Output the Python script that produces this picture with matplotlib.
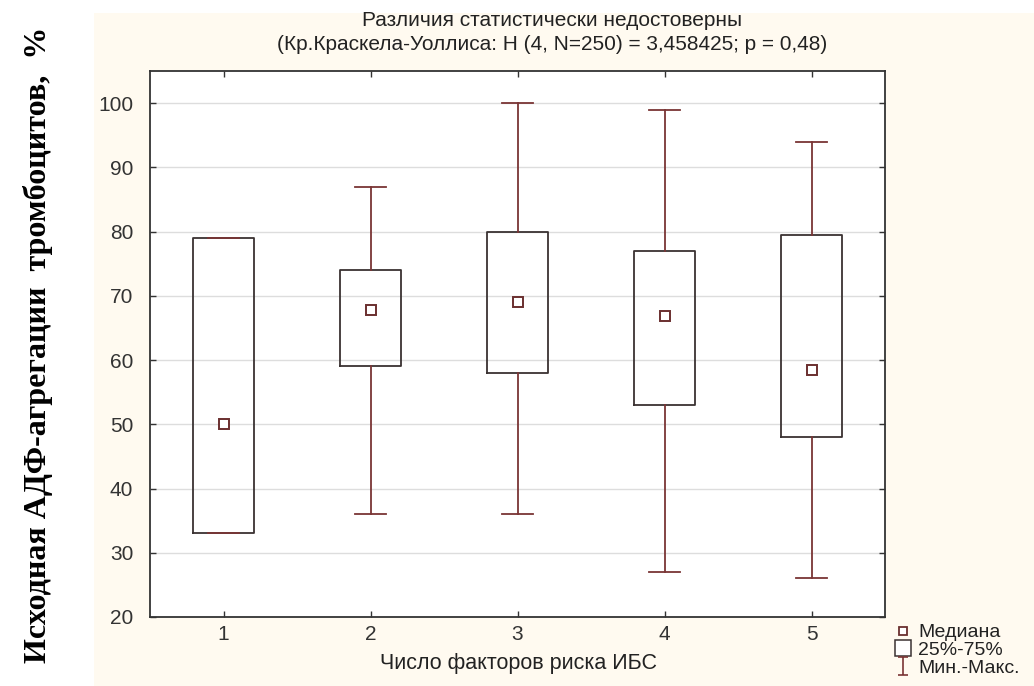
import matplotlib
matplotlib.use("Agg")
import matplotlib.pyplot as plt
from matplotlib.lines import Line2D
from matplotlib.path import Path
from matplotlib.patches import Rectangle

categories = ["1", "2", "3", "4", "5"]
mins = [33, 36, 36, 27, 26]
q1s = [33, 59, 58, 53, 48]
medians = [50, 67.8, 69, 66.9, 58.5]
q3s = [79, 74, 80, 77, 79.4]
maxs = [79, 87, 100, 99, 94]
yticks = [20, 30, 40, 50, 60, 70, 80, 90, 100]

title_lines = ["Различия статистически недостоверны",
               "(Кр.Краскела-Уоллиса: H (4, N=250) = 3,458425; p = 0,48)"]
xlabel = "Число факторов риска ИБС"
ylabel = "Исходная АДФ-агрегации  тромбоцитов,  %"

plt.rcParams['font.family'] = ['Liberation Sans', 'DejaVu Sans']

W, H = 1034, 686
fig = plt.figure(figsize=(W / 100, H / 100), dpi=100)
fig.patch.set_facecolor('white')
fig.patches.append(Rectangle((94 / W, 0), 1 - 94 / W, 1 - 13 / H, transform=fig.transFigure,
                             facecolor='#fffaf0', edgecolor='none', zorder=-10))

ax = fig.add_axes([150 / W, 1 - 617 / H, (885 - 150) / W, (617 - 71) / H])
ax.set_facecolor('white')

box_col = '#3a3232'
whisk_col = '#7a3535'
stats = []
for i in range(len(categories)):
    stats.append(dict(med=medians[i], q1=q1s[i], q3=q3s[i], whislo=mins[i], whishi=maxs[i],
                      mean=medians[i], label=categories[i]))
positions = list(range(1, len(categories) + 1))
ax.bxp(stats, positions=positions, widths=0.41, showfliers=False, showmeans=True,
       boxprops=dict(color=box_col, linewidth=1.3),
       whiskerprops=dict(color=whisk_col, linewidth=1.3),
       capprops=dict(color=whisk_col, linewidth=1.3),
       capwidths=0.21,
       medianprops=dict(linewidth=0),
       meanprops=dict(marker='s', markersize=6.5, markerfacecolor='white',
                      markeredgecolor='#6a2f2f', markeredgewidth=1.4),
       zorder=3)

ax.set_xlim(0.5, 5.5)
ax.set_ylim(20, 105)
ax.set_yticks(yticks)
ax.set_xticks(positions)
ax.set_xticklabels(categories)
ax.yaxis.grid(True, color='#dddddd', linewidth=1)
ax.set_axisbelow(True)
ax.tick_params(direction='in', length=4, width=1, top=True, right=True, labelsize=15,
               colors='#333333')
ax.tick_params(axis='y', pad=12)
ax.tick_params(axis='x', pad=6)
for s in ax.spines.values():
    s.set_color('#333333')
    s.set_linewidth(1.3)

fig.text(552 / W, 1 - 20 / H, title_lines[0], ha='center', va='center', fontsize=15,
         color='#222222')
fig.text(552 / W, 1 - 45 / H, title_lines[1], ha='center', va='center', fontsize=15,
         color='#222222')
fig.text(518 / W, 1 - 663 / H, xlabel, ha='center', va='center', fontsize=15.5, color='#222222')
fig.text(38 / W, 1 - 345 / H, ylabel, rotation=90, ha='center', va='center', fontsize=23,
         family=['Liberation Serif', 'DejaVu Serif'], fontweight='bold', color='black')

ibar = Path([(-0.5, -1), (0.5, -1), (0, -1), (0, 1), (-0.5, 1), (0.5, 1)],
            [Path.MOVETO, Path.LINETO, Path.MOVETO, Path.LINETO, Path.MOVETO, Path.LINETO])
handles = [
    Line2D([], [], linestyle='none', marker='s', markersize=6, markerfacecolor='white',
           markeredgecolor='#6a2f2f', markeredgewidth=1.3),
    Line2D([], [], linestyle='none', marker='s', markersize=12, markerfacecolor='white',
           markeredgecolor=box_col, markeredgewidth=1.1),
    Line2D([], [], linestyle='none', marker=ibar, markersize=13, markerfacecolor='none',
           markeredgecolor=whisk_col, markeredgewidth=1.2),
]
labels = ["Медиана", "25%-75%", "Мин.-Макс."]
fig.legend(handles, labels, loc='upper left', bbox_to_anchor=(884 / W, 1 - 614 / H),
           frameon=False, fontsize=14, handletextpad=0.25, labelspacing=0.0,
           handlelength=1.0, borderpad=0, labelcolor='#222222')

fig.savefig("out.png", dpi=100)
